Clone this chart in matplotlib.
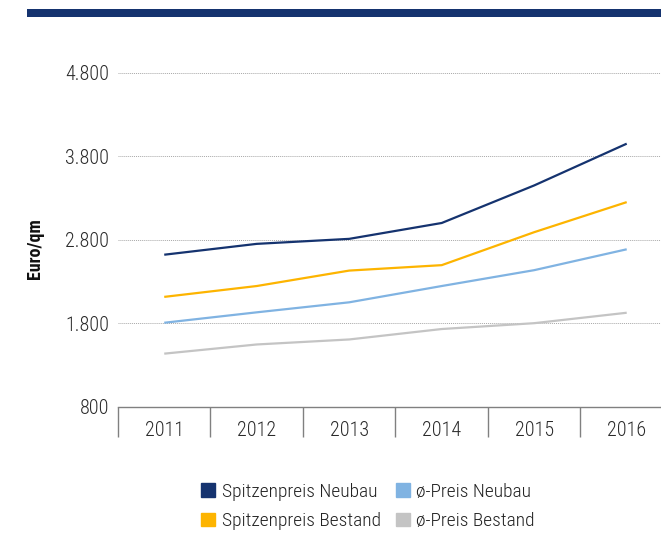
import matplotlib
matplotlib.use("Agg")
import matplotlib.pyplot as plt
from matplotlib.patches import Patch, Rectangle
from matplotlib.ticker import FixedLocator, FuncFormatter

plt.rcParams['font.family'] = ['Roboto Condensed', 'Liberation Sans', 'DejaVu Sans']
plt.rcParams['font.weight'] = 'light'

jahre = ["2011", "2012", "2013", "2014", "2015", "2016"]
spitze_neubau = [2620, 2750, 2810, 3000, 3450, 3950]
spitze_bestand = [2115, 2245, 2430, 2495, 2890, 3250]
schnitt_neubau = [1805, 1930, 2050, 2245, 2435, 2685]
schnitt_bestand = [1435, 1545, 1605, 1730, 1800, 1925]
y_ticks = [800, 1800, 2800, 3800, 4800]

navy = "#15336f"
hellblau = "#80b3e2"
orange = "#fdb400"
grau = "#c4c4c4"

fig = plt.figure(figsize=(6.61, 5.58), dpi=100)
ax = fig.add_axes([0.1785, 0.2712, 0.8396, 0.5985])

x = list(range(len(jahre)))
ax.plot(x, spitze_neubau, color=navy, lw=1.6, solid_capstyle="butt")
ax.plot(x, spitze_bestand, color=orange, lw=1.6, solid_capstyle="butt")
ax.plot(x, schnitt_neubau, color=hellblau, lw=1.6, solid_capstyle="butt")
ax.plot(x, schnitt_bestand, color=grau, lw=1.6, solid_capstyle="butt")

ax.set_xlim(-0.5, len(jahre) - 0.5)
ax.set_ylim(800, 4800)

# y-Achse: Tausenderpunkt, keine Striche
ax.yaxis.set_major_locator(FixedLocator(y_ticks))
ax.yaxis.set_major_formatter(FuncFormatter(lambda v, p: f"{int(v):,}".replace(",", ".")))
ax.tick_params(axis="y", length=0, pad=6.5, labelsize=14.5, labelcolor="#2a2a2a")
ax.grid(axis="y", color="#a8a8a8", lw=0.7, linestyle=(0, (1, 1)))

# x-Achse: Kategorien mit Trennstrichen
ax.set_xticks(x)
ax.set_xticklabels(jahre)
ax.set_xticks([i - 0.5 for i in range(len(jahre))], minor=True)
ax.tick_params(axis="x", which="major", length=0, pad=10, labelsize=14.5, labelcolor="#2a2a2a")
ax.tick_params(axis="x", which="minor", length=21.6, width=1.0, color="#808080", direction="out")

for s in ["top", "right", "left"]:
    ax.spines[s].set_visible(False)
ax.spines["bottom"].set_color("#808080")
ax.spines["bottom"].set_linewidth(1.0)

fig.text(35 / 661, 1 - 249 / 558, "Euro/qm", rotation=90, ha="center", va="center",
         fontsize=13, fontweight="bold", color="#111111")

# Balken oben
fig.add_artist(Rectangle((26.7 / 661, 1 - 16.7 / 558), 1.0, 7.7 / 558,
                         transform=fig.transFigure, color=navy, lw=0))

# Legende spaltenweise befüllt
handles = [Patch(color=navy), Patch(color=orange), Patch(color=hellblau), Patch(color=grau)]
labels = ["Spitzenpreis Neubau", "Spitzenpreis Bestand", "ø-Preis Neubau", "ø-Preis Bestand"]
fig.legend(handles, labels, ncol=2, loc="center", bbox_to_anchor=(368 / 661, 1 - 506.5 / 558),
           frameon=False, fontsize=14, handlelength=0.72, handleheight=0.72,
           handletextpad=0.35, columnspacing=0.75, labelspacing=0.6, labelcolor="#222222")

fig.savefig("out.png", dpi=100)
